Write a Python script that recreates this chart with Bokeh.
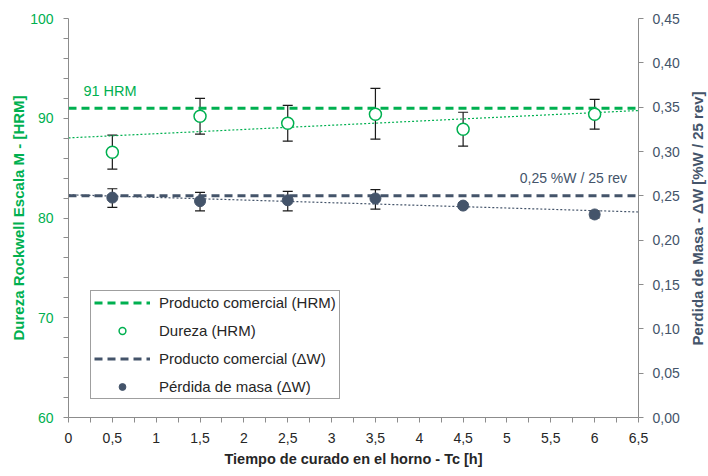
import math
import numpy as np
from bokeh.plotting import figure
from bokeh.models import (Range1d, LinearAxis, FixedTicker, ColumnDataSource,
                          Whisker, TeeHead, Legend, LegendItem, Label)
from bokeh.embed import file_html
from bokeh.resources import INLINE

# ---------------- data ----------------
tiempo = [0.5, 1.5, 2.5, 3.5, 4.5, 6.0]
dureza = [86.6, 90.2, 89.5, 90.4, 88.9, 90.4]
dureza_sup = [88.3, 92.0, 91.3, 93.0, 90.6, 91.9]
dureza_inf = [84.9, 88.4, 87.7, 87.9, 87.2, 88.9]
perdida = [0.248, 0.244, 0.245, 0.247, 0.239, 0.229]
perdida_sup = [0.258, 0.254, 0.255, 0.257, 0.242, 0.233]
perdida_inf = [0.237, 0.233, 0.233, 0.235, 0.236, 0.225]
ref_hrm = 91
ref_dw = 0.25
ref_hrm_text = "91 HRM"
ref_dw_text = "0,25 %W / 25 rev"

x_ticks = [0, 0.5, 1, 1.5, 2, 2.5, 3, 3.5, 4, 4.5, 5, 5.5, 6, 6.5]
x_tick_labels = ["0", "0,5", "1", "1,5", "2", "2,5", "3", "3,5", "4", "4,5",
                 "5", "5,5", "6", "6,5"]
x_minor = [0.25, 0.75, 1.25, 1.75, 2.25, 2.75, 3.25, 3.75, 4.25, 4.75,
           5.25, 5.75, 6.25]
hrm_ticks = [60, 70, 80, 90, 100]
hrm_minor = [62, 64, 66, 68, 72, 74, 76, 78, 82, 84, 86, 88, 92, 94, 96, 98]
dw_ticks = [0.0, 0.05, 0.1, 0.15, 0.2, 0.25, 0.3, 0.35, 0.4, 0.45]
dw_tick_labels = ["0,00", "0,05", "0,10", "0,15", "0,20", "0,25", "0,30",
                  "0,35", "0,40", "0,45"]

x_title = "Tiempo de curado en el horno - Tc [h]"
y_title = "Dureza Rockwell Escala M - [HRM]"
y2_title = "Perdida de Masa - ΔW [%W / 25 rev]"
legend_labels = ["Producto comercial (HRM)", "Dureza (HRM)",
                 "Producto comercial (ΔW)", "Pérdida de masa (ΔW)"]

# ---------------- styles ----------------
GREEN = "#00B050"
SLATE = "#44546A"
AXIS = "#8C8C8C"
TXT = "#262626"
FONT = "Liberation Sans"

x_lo, x_hi = x_ticks[0], x_ticks[-1]

p = figure(width=708, height=476, output_backend="svg", toolbar_location=None,
           x_range=Range1d(x_lo, x_hi), y_range=Range1d(hrm_ticks[0], hrm_ticks[-1]),
           x_axis_location=None, y_axis_location=None,
           min_border_left=68, min_border_right=70, min_border_top=18,
           min_border_bottom=59)
p.outline_line_color = None
p.xgrid.visible = False
p.ygrid.visible = False
p.background_fill_color = "white"
p.border_fill_color = "white"
p.extra_y_ranges = {"dw": Range1d(dw_ticks[0], dw_ticks[-1])}


def style_axis(ax, color, title_color, title_size):
    ax.axis_line_color = AXIS
    ax.major_tick_line_color = AXIS
    ax.minor_tick_line_color = AXIS
    ax.major_tick_in = 0
    ax.major_tick_out = 5
    ax.minor_tick_in = 0
    ax.minor_tick_out = 5
    ax.major_label_text_font = FONT
    ax.major_label_text_font_size = "14px"
    ax.major_label_text_color = color
    ax.axis_label_text_font = FONT
    ax.axis_label_text_font_style = "bold"
    ax.axis_label_text_font_size = title_size
    ax.axis_label_text_color = title_color


xaxis = LinearAxis(axis_label=x_title,
                   ticker=FixedTicker(ticks=x_ticks, minor_ticks=x_minor))
xaxis.major_label_overrides = {t: l for t, l in zip(x_ticks, x_tick_labels)}
style_axis(xaxis, TXT, TXT, "14.5px")
xaxis.major_label_standoff = 10
xaxis.axis_label_standoff = 5
p.add_layout(xaxis, "below")

yaxis = LinearAxis(axis_label=y_title,
                   ticker=FixedTicker(ticks=hrm_ticks, minor_ticks=hrm_minor))
style_axis(yaxis, GREEN, GREEN, "15px")
yaxis.major_label_standoff = 10
yaxis.axis_label_standoff = 0
p.add_layout(yaxis, "left")

y2axis = LinearAxis(y_range_name="dw",
                    ticker=FixedTicker(ticks=dw_ticks, minor_ticks=[]))
y2axis.major_label_overrides = {t: l for t, l in zip(dw_ticks, dw_tick_labels)}
style_axis(y2axis, SLATE, SLATE, "15px")
y2axis.minor_tick_out = 0
y2axis.major_label_standoff = 9
p.add_layout(y2axis, "right")

# right-axis title (reads bottom-to-top as in the reference); it lives in a
# side panel just outside the right axis, so it is not clipped by the frame
p.add_layout(Label(x=15, x_units="screen", y=199, y_units="screen",
                   text=y2_title, angle=math.pi / 2,
                   text_font=FONT, text_font_style="bold",
                   text_font_size="15px", text_color=SLATE,
                   text_align="center", text_baseline="middle"), "right")

# ---------------- trend lines (linear fit of the data) ----------------
tx = [x_lo, x_hi]
c1 = np.polyfit(tiempo, dureza, 1)
c2 = np.polyfit(tiempo, perdida, 1)
p.line(tx, list(np.polyval(c1, tx)), line_color=GREEN, line_width=1.2,
       line_dash="2 2")
p.line(tx, list(np.polyval(c2, tx)), line_color=SLATE, line_width=1.2,
       line_dash="2 2", y_range_name="dw")

# ---------------- reference lines ----------------
r_ref1 = p.line(tx, [ref_hrm, ref_hrm], line_color=GREEN, line_width=3,
                line_dash="8 5")
r_ref2 = p.line(tx, [ref_dw, ref_dw], line_color=SLATE, line_width=3,
                line_dash="8 5", y_range_name="dw")

# ---------------- error bars ----------------
src1 = ColumnDataSource(dict(x=tiempo, y=dureza, up=dureza_sup, lo=dureza_inf))
src2 = ColumnDataSource(dict(x=tiempo, y=perdida, up=perdida_sup, lo=perdida_inf))
for src, rng in ((src1, "default"), (src2, "dw")):
    w = Whisker(base="x", upper="up", lower="lo", source=src,
                line_color="#1A1A1A", line_width=1.2,
                upper_head=TeeHead(size=10, line_color="#1A1A1A", line_width=1.2),
                lower_head=TeeHead(size=10, line_color="#1A1A1A", line_width=1.2),
                y_range_name=rng)
    p.add_layout(w)

# ---------------- markers ----------------
r_dur = p.scatter("x", "y", source=src1, size=12, marker="circle",
                  fill_color="white", line_color=GREEN, line_width=1.5)
r_per = p.scatter("x", "y", source=src2, size=11, marker="circle",
                  fill_color=SLATE, line_color=SLATE, y_range_name="dw")

# ---------------- labels ----------------
p.add_layout(Label(x=0.17, y=ref_hrm, y_offset=17, text=ref_hrm_text,
                   text_font=FONT, text_font_size="14.5px", text_color=GREEN,
                   text_baseline="middle", text_align="left"))
p.add_layout(Label(x=6.37, y=ref_dw, y_offset=18, text=ref_dw_text,
                   text_font=FONT, text_font_size="14px", text_color=SLATE,
                   text_baseline="middle", text_align="right",
                   y_range_name="dw"))

# ---------------- legend ----------------
legend = Legend(items=[LegendItem(label=legend_labels[0], renderers=[r_ref1]),
                       LegendItem(label=legend_labels[1], renderers=[r_dur]),
                       LegendItem(label=legend_labels[2], renderers=[r_ref2]),
                       LegendItem(label=legend_labels[3], renderers=[r_per])],
                location=(22, 18), padding=3, spacing=11,
                glyph_width=56, glyph_height=17, label_height=17,
                label_standoff=9, margin=0,
                label_text_font=FONT, label_text_font_size="15px",
                label_text_color=TXT,
                border_line_color="#404040", border_line_width=1,
                background_fill_color="white", background_fill_alpha=1)
p.add_layout(legend)

open("out.html", "w").write(file_html(p, INLINE))
